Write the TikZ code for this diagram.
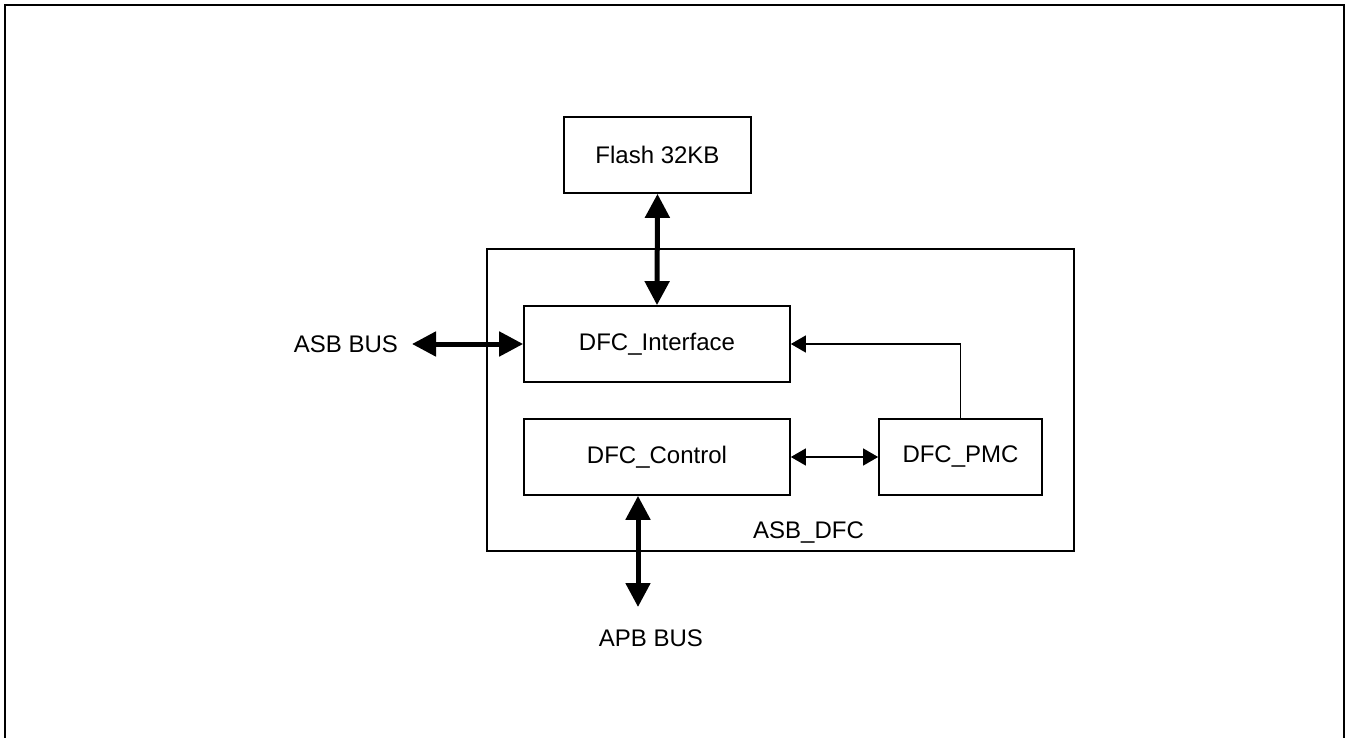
\documentclass[tikz,border=0pt]{standalone}
\usepackage{fontspec}
\setmainfont{Liberation Sans}
\usetikzlibrary{positioning,arrows.meta,calc}

\begin{document}
\begin{tikzpicture}[
  x=0.5pt, y=-0.5pt,
  every node/.style={font=\fontsize{12}{14}\selectfont},
  block/.style={draw, line width=0.85pt, minimum height=38pt, inner sep=0pt},
  busArrow/.style={line width=2.5pt, {Triangle[width=12pt,length=12pt]}-{Triangle[width=12pt,length=12pt]}},
  sigArrow/.style={line width=0.65pt, -{Triangle[width=8.5pt,length=7.5pt]}},
  sigBoth/.style={line width=0.65pt, {Triangle[width=8.5pt,length=7.5pt]}-{Triangle[width=8.5pt,length=7.5pt]}}
]
  \useasboundingbox (0,0) rectangle (1346,738);

  % Page frame
  \draw[line width=1pt] (5,738) -- (5,5) -- (1344,5) -- (1344,738);

  % Blocks
  \node[block, minimum width=293.5pt, minimum height=151pt] (asbdfc) at (780.5,400) {};
  \node[block, minimum width=93.5pt] (flash) at (657.5,155) {Flash 32KB};
  \node[block, minimum width=133pt] (iface) at (657,344) {DFC\_Interface};
  \node[block, minimum width=133pt] (ctrl) at (657,457) {DFC\_Control};
  \node[block, minimum width=81.5pt] (pmc) at (960.5,457) {DFC\_PMC};
  \node (asbdfclbl) at (808.5,533) {ASB\_DFC};

  % Bus labels
  \node (asbbus) at (346,344) {ASB BUS};
  \node (apbbus) at (651,638) {APB BUS};
  \coordinate (asbend) at (412,344);
  \coordinate (apbend) at (638,607);

  % Connections
  \draw[busArrow] (flash.south) -- (iface.north);
  \draw[busArrow] (asbend) -- (iface.west);
  \draw[busArrow] (apbend |- ctrl.south) -- (apbend);
  \draw[sigBoth] (ctrl.east) -- (pmc.west);
  \draw[sigArrow] (pmc.north) -- (pmc.north |- iface.east) -- (iface.east);
\end{tikzpicture}
\end{document}
